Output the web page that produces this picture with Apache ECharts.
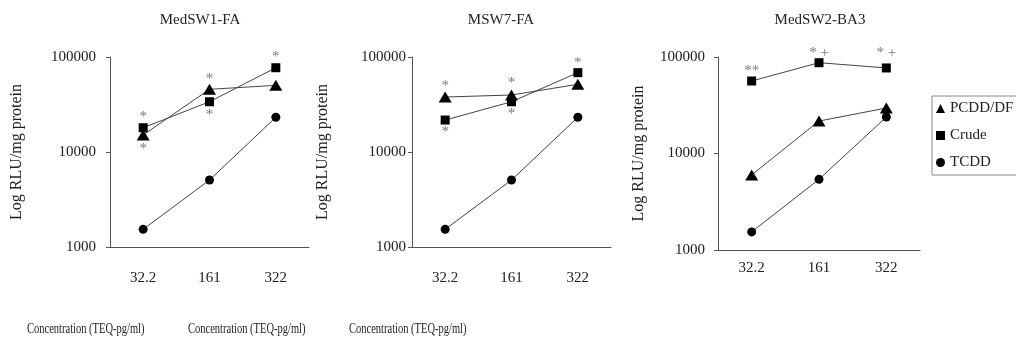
<!DOCTYPE html>
<html>
<head>
<meta charset="utf-8">
<script src="https://cdn.jsdelivr.net/npm/echarts@6/dist/echarts.min.js"></script>
<style>
  html, body { margin: 0; padding: 0; background: #fff; }
  #chart { width: 1016px; height: 339px; }
</style>
</head>
<body>
<div id="chart"></div>
<script>
const categories = ['32.2', '161', '322']
const panelTitles = ['MedSW1-FA', 'MSW7-FA', 'MedSW2-BA3']
const seriesNames = ['PCDD/DF', 'Crude', 'TCDD']
const yTitle = 'Log RLU/mg protein'
const xTitle = 'Concentration (TEQ-pg/ml)'

// panel values (RLU/mg protein)
const p1Pcdd = [15100, 45700, 50300]
const p1Crude = [18000, 33800, 77100]
const p1Tcdd = [1535, 5070, 23200]
const p2Pcdd = [37900, 39800, 51600]
const p2Crude = [21700, 33800, 68400]
const p2Tcdd = [1535, 5070, 23200]
const p3Pcdd = [6000, 21700, 29600]
const p3Crude = [56400, 87300, 77000]
const p3Tcdd = [1540, 5400, 23900]

// significance marks: [category index, value, text]
const p1Marks = [[0, 25800, '*'], [0, 11900, '*'], [1, 64700, '*'], [1, 27000, '*'], [2, 110000, '*']]
const p2Marks = [[0, 55000, '*'], [0, 17700, '*'], [1, 58200, '*'], [1, 27700, '*'], [2, 94700, '*']]
const p3Marks = [[0, 79400, '**'], [1, 121000, '* +'], [2, 121000, '* +']]

const FONT = '"Liberation Serif", "Times New Roman", serif'
const TXT = '#222'
const AXIS = '#555'

const panels = [
  { pcdd: p1Pcdd, crude: p1Crude, tcdd: p1Tcdd, marks: p1Marks,
    grid: { left: 110, top: 57, width: 199, height: 190 }, yMargin: 14, xMargin: 24, nameGap: 85, titleX: 200, xTitleX: 27 },
  { pcdd: p2Pcdd, crude: p2Crude, tcdd: p2Tcdd, marks: p2Marks,
    grid: { left: 412, top: 57, width: 199, height: 190 }, yMargin: 6, xMargin: 24, nameGap: 81, titleX: 501, xTitleX: 188 },
  { pcdd: p3Pcdd, crude: p3Crude, tcdd: p3Tcdd, marks: p3Marks,
    grid: { left: 718, top: 57, width: 202, height: 193 }, yMargin: 13, xMargin: 11, nameGap: 71, titleX: 820, xTitleX: 349 },
]

const grids = []
const xAxes = []
const yAxes = []
const series = []
const graphics = []

panels.forEach((p, i) => {
  grids.push(p.grid)
  xAxes.push({
    type: 'category',
    gridIndex: i,
    data: categories,
    boundaryGap: true,
    axisLine: { lineStyle: { color: AXIS, width: 1 } },
    axisTick: { inside: true, length: 4, lineStyle: { color: AXIS } },
    axisLabel: { color: TXT, fontFamily: FONT, fontSize: 15, margin: p.xMargin },
    splitLine: { show: false },
  })
  yAxes.push({
    type: 'log',
    gridIndex: i,
    logBase: 10,
    min: 1000,
    max: 100000,
    name: yTitle,
    nameLocation: 'middle',
    nameGap: p.nameGap,
    nameTextStyle: { color: TXT, fontFamily: FONT, fontSize: 16 },
    axisLine: { show: true, lineStyle: { color: AXIS, width: 1 } },
    axisTick: { show: true, length: 4, lineStyle: { color: AXIS } },
    minorTick: { show: false },
    axisLabel: {
      color: TXT, fontFamily: FONT, fontSize: 15, margin: p.yMargin,
      formatter: (v) => String(Math.round(v)),
    },
    splitLine: { show: false },
  })
  const lineStyle = { color: '#444', width: 1 }
  const itemStyle = { color: '#000' }
  series.push(
    { name: seriesNames[0], type: 'line', xAxisIndex: i, yAxisIndex: i, data: p.pcdd,
      symbol: 'triangle', symbolSize: [13, 11], lineStyle, itemStyle, animation: false },
    { name: seriesNames[1], type: 'line', xAxisIndex: i, yAxisIndex: i, data: p.crude,
      symbol: 'rect', symbolSize: 9, lineStyle, itemStyle, animation: false },
    { name: seriesNames[2], type: 'line', xAxisIndex: i, yAxisIndex: i, data: p.tcdd,
      symbol: 'circle', symbolSize: 9, lineStyle, itemStyle, animation: false },
    { name: 'marks' + i, type: 'scatter', xAxisIndex: i, yAxisIndex: i, clip: false, silent: true,
      data: p.marks.map((m) => ({ value: [m[0], m[1]], text: m[2] })),
      symbol: 'circle', symbolSize: 1, itemStyle: { color: 'transparent' },
      label: {
        show: true, position: 'inside', offset: [0, 4],
        color: '#555', fontFamily: FONT, fontSize: 15,
        formatter: (d) => d.data.text,
      },
      animation: false },
  )
  graphics.push({
    type: 'text', x: p.titleX, y: 20,
    style: { text: panelTitles[i], fill: TXT, font: '15px ' + FONT, textAlign: 'center', textVerticalAlign: 'middle' },
  })
  graphics.push({
    type: 'text', x: p.xTitleX, y: 329, scaleX: 0.7,
    style: { text: xTitle, fill: TXT, font: '15px ' + FONT, textAlign: 'left', textVerticalAlign: 'middle' },
  })
})

const chart = echarts.init(document.getElementById('chart'), null, { renderer: 'canvas' })
chart.setOption({
  backgroundColor: '#fff',
  animation: false,
  grid: grids,
  xAxis: xAxes,
  yAxis: yAxes,
  legend: {
    orient: 'vertical',
    left: 932,
    top: 96,
    data: [
      { name: seriesNames[0], icon: 'triangle' },
      { name: seriesNames[1], icon: 'rect' },
      { name: seriesNames[2], icon: 'circle' },
    ],
    itemWidth: 9,
    itemHeight: 9,
    itemGap: 12,
    padding: [5, 6, 5, 4],
    borderColor: '#888',
    borderWidth: 1,
    textStyle: { color: TXT, fontFamily: FONT, fontSize: 15 },
    selectedMode: false,
  },
  series,
  graphic: graphics,
})
</script>
</body>
</html>
